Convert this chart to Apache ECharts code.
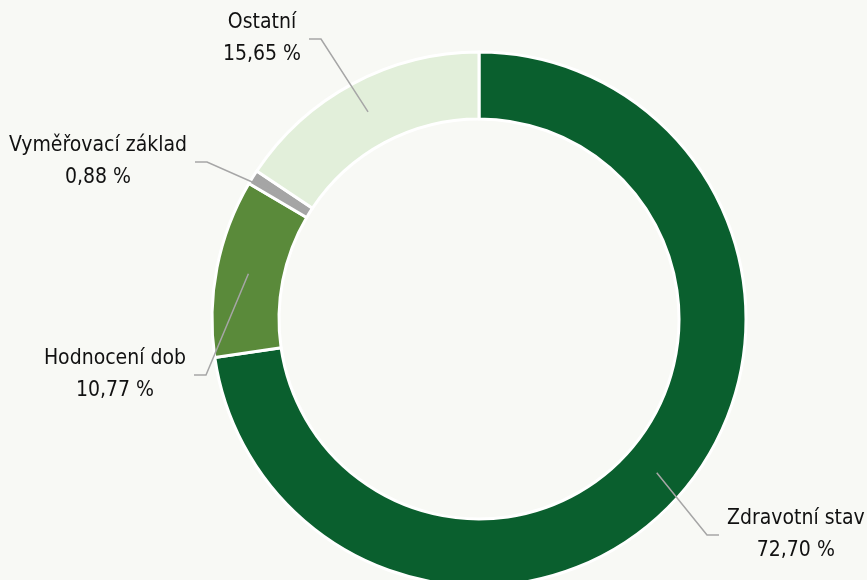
<!DOCTYPE html>
<html>
<head>
<meta charset="utf-8">
<script src="https://cdn.jsdelivr.net/npm/echarts@6/dist/echarts.min.js"></script>
<style>
  html,body{margin:0;padding:0;background:#f8f9f5;}
  #chart{width:867px;height:580px;}
</style>
</head>
<body>
<div id="chart"></div>
<script>
var names = ['Zdravotní stav', 'Hodnocení dob', 'Vyměřovací základ', 'Ostatní'];
var shares = [72.70, 10.77, 0.88, 15.65];
var colors = ['#0a5f2e', '#5a8a3a', '#a5a5a5', '#e2efda'];

// elbow of each label line + which side the text sits on
var elbows = [[707, 535, 1], [206, 375, -1], [207, 162, -1], [321, 39, -1]];

var pieData = names.map(function(n, i){
  return {name: n, value: shares[i], itemStyle: {color: colors[i]}};
});

var chart = echarts.init(document.getElementById('chart'));
chart.setOption({
  backgroundColor: '#f8f9f5',
  animation: false,
  series: [
    {
      type: 'pie',
      z: 2,
      center: [479, 319],
      radius: [200, 267],
      startAngle: 90,
      clockwise: true,
      silent: true,
      itemStyle: {borderColor: '#ffffff', borderWidth: 3},
      label: {show: false},
      labelLine: {show: false},
      data: pieData
    },
    {
      // label carrier: anchors sit in the middle of the ring
      type: 'pie',
      z: 10,
      center: [479, 319],
      radius: [234, 235],
      startAngle: 90,
      clockwise: true,
      silent: true,
      avoidLabelOverlap: false,
      itemStyle: {color: 'rgba(0,0,0,0)'},
      label: {
        show: true,
        fontFamily: 'DejaVu Sans Condensed',
        fontSize: 21,
        lineHeight: 32,
        color: '#111111',
        formatter: function(p){
          return p.name + '\n' + p.value.toFixed(2).replace('.', ',') + ' %';
        }
      },
      labelLine: {show: true, length: 20, length2: 12, lineStyle: {color: '#a6a6a6', width: 1.5}},
      labelLayout: function(params){
        var e = elbows[params.dataIndex];
        var a = params.labelLinePoints[0];
        var w = params.labelRect.width;
        var endX = e[0] + e[2] * 12;
        return {
          x: endX + e[2] * (8 + w / 2),
          y: e[1],
          align: 'center',
          verticalAlign: 'middle',
          labelLinePoints: [a, [e[0], e[1]], [endX, e[1]]]
        };
      },
      data: pieData.map(function(d){ return {name: d.name, value: d.value}; })
    }
  ]
});
</script>
</body>
</html>
